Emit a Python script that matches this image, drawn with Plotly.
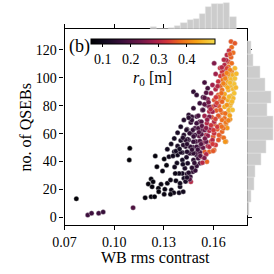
import plotly.graph_objects as go

# ---------------- data ----------------
wb_contrast = [
    0.0771, 0.0840, 0.0863, 0.0906, 0.0933, 0.1094, 0.1091, 0.1114, 0.1187, 0.1223,
    0.1244, 0.1248, 0.1302, 0.1258, 0.1316, 0.1292, 0.1223, 0.1235, 0.1206, 0.1229,
    0.1283, 0.1321, 0.1340, 0.1373, 0.1267, 0.1306, 0.1269, 0.1302, 0.1345, 0.1360,
    0.1340, 0.1392, 0.1417, 0.1379, 0.1398, 0.1421, 0.1412, 0.1427, 0.1392, 0.1440,
    0.1460, 0.1463, 0.1456, 0.1475, 0.1444, 0.1412, 0.1437, 0.1479, 0.1469, 0.1498,
    0.1518, 0.1508, 0.1527, 0.1383, 0.1369, 0.1560, 0.1533, 0.1498, 0.1431, 0.1398,
    0.1490, 0.1331, 0.1450,
    # upper band
    0.1706, 0.1729, 0.1710, 0.1694, 0.1719, 0.1681, 0.1706, 0.1690, 0.1710, 0.1604,
    0.1667, 0.1729, 0.1690, 0.1675, 0.1710, 0.1652, 0.1613, 0.1642, 0.1671, 0.1700,
    0.1719, 0.1687, 0.1656, 0.1629, 0.1546, 0.1594, 0.1642, 0.1671, 0.1706, 0.1565,
    0.1613, 0.1652, 0.1690, 0.1719, 0.1479, 0.1498, 0.1585, 0.1629, 0.1667, 0.1706,
    0.1537, 0.1565, 0.1604, 0.1642, 0.1687, 0.1719, 0.1517, 0.1556, 0.1594, 0.1633,
    0.1667, 0.1700, 0.1479, 0.1533, 0.1575, 0.1617, 0.1652, 0.1690, 0.1450, 0.1498,
    0.1546, 0.1590, 0.1633, 0.1667, 0.1700, 0.1421, 0.1463, 0.1517, 0.1560, 0.1604,
    0.1642, 0.1675, 0.1402, 0.1440, 0.1488, 0.1533, 0.1575, 0.1623, 0.1652, 0.1383,
    0.1421, 0.1469, 0.1513, 0.1556, 0.1598, 0.1642, 0.1363, 0.1402, 0.1450, 0.1494,
    0.1537, 0.1585, 0.1675, 0.1344, 0.1383, 0.1431, 0.1475, 0.1517, 0.1565, 0.1613,
    0.1321, 0.1363, 0.1412, 0.1456, 0.1498, 0.1546, 0.1575,
    0.1444, 0.1437, 0.1469, 0.1556, 0.1604,
    # core
    0.1546, 0.1633, 0.1662, 0.1694, 0.1706, 0.1681, 0.1652, 0.1613, 0.1575, 0.1546,
    0.1537, 0.1594, 0.1642, 0.1671, 0.1694, 0.1629, 0.1575, 0.1508, 0.1469, 0.1450,
    0.1498, 0.1527, 0.1604, 0.1652, 0.1675, 0.1623, 0.1585, 0.1546, 0.1508, 0.1475,
    0.1456, 0.1489, 0.1527, 0.1566, 0.1604, 0.1633, 0.1662, 0.1594, 0.1556, 0.1518,
    0.1479, 0.1431, 0.1417, 0.1460, 0.1498, 0.1537, 0.1575, 0.1671, 0.1373, 0.1402,
    0.1440, 0.1479, 0.1518, 0.1556, 0.1598,
    # top
    0.1677, 0.1681, 0.1700, 0.1662, 0.1691, 0.1716, 0.1671, 0.1706, 0.1729,
    0.1725, 0.1735, 0.1725, 0.1712, 0.1698, 0.1715, 0.1683, 0.1690, 0.1660, 0.1738,
    # more core
    0.1505, 0.1525, 0.1548, 0.1512, 0.1530, 0.1585, 0.1562, 0.1612, 0.1583, 0.1620,
    0.1570, 0.1615, 0.1648, 0.1660, 0.1625, 0.1640, 0.1663, 0.1470, 0.1440, 0.1415,
    0.1395, 0.1355, 0.1480, 0.1520, 0.1545, 0.1470, 0.1440, 0.1485, 0.1415, 0.1365,
    0.1595, 0.1630, 0.1650, 0.1600, 0.1555, 0.1685, 0.1700, 0.1680, 0.1700, 0.1650,
]
n_qsebs = [
    13.3, 1.6, 2.9, 2.9, 3.8, 49.5, 41.1, 6.9, 14.0, 14.8,
    14.8, 43.9, 41.8, 36.3, 37.3, 33.2, 27.5, 25.5, 23.9, 21.9,
    23.7, 24.4, 26.7, 26.2, 20.8, 20.1, 18.4, 16.5, 19.6, 17.6,
    16.5, 17.6, 18.4, 38.9, 21.9, 28.0, 31.5, 35.1, 31.5, 31.0,
    29.1, 25.5, 27.2, 32.7, 38.7, 41.1, 43.0, 41.1, 45.9, 44.7,
    38.7, 42.3, 43.4, 44.7, 31.5, 39.9, 39.2, 36.8, 25.6, 24.4,
    33.5, 43.5, 32.0,
    126.0, 124.8, 121.9, 119.5, 118.0, 116.4, 114.7, 111.6, 110.4, 110.4,
    109.2, 106.8, 108.0, 105.2, 104.4, 104.4, 102.8, 101.3, 100.9, 100.4,
    98.5, 97.3, 98.5, 97.3, 96.6, 94.9, 94.2, 94.9, 94.2, 92.5,
    91.8, 91.3, 91.3, 91.8, 90.1, 87.7, 88.9, 87.7, 88.4, 87.0,
    86.0, 84.6, 84.1, 83.7, 84.1, 85.3, 81.7, 80.5, 79.3, 79.8,
    79.3, 79.8, 78.2, 77.0, 75.8, 76.5, 75.0, 75.8, 73.4, 72.2,
    72.7, 71.7, 72.2, 71.0, 70.3, 69.8, 67.9, 68.6, 67.4, 66.9,
    66.2, 66.9, 65.0, 63.1, 63.8, 62.6, 62.1, 63.1, 61.4, 60.7,
    59.0, 59.8, 58.3, 59.0, 57.8, 57.8, 56.6, 55.0, 55.4, 54.3,
    53.5, 54.3, 54.3, 52.6, 51.1, 50.7, 50.2, 50.7, 51.1, 51.9,
    48.8, 47.1, 46.4, 45.9, 46.4, 47.1, 47.1,
    55.9, 62.6, 72.1, 89.3, 48.2,
    85.7, 86.4, 85.3, 86.4, 81.7, 80.5, 82.9, 80.5, 79.3, 81.0,
    76.9, 75.7, 76.9, 74.5, 76.9, 72.8, 72.1, 72.8, 69.7, 71.4,
    67.4, 68.5, 68.5, 69.7, 68.1, 64.9, 63.8, 62.6, 63.8, 62.6,
    60.2, 59.0, 59.5, 58.5, 60.2, 59.0, 57.0, 55.4, 54.2, 54.7,
    54.2, 55.4, 51.8, 50.6, 50.6, 49.9, 50.6, 54.2, 47.5, 46.6,
    47.0, 45.9, 46.6, 45.2, 47.5,
    112.7, 106.8, 105.6, 102.0, 102.7, 102.0, 99.6, 98.9, 99.6,
    95.5, 93.0, 89.0, 83.0, 73.0, 77.0, 64.0, 69.5, 63.8, 103.0,
    48.5, 52.5, 56.5, 61.0, 65.5, 66.0, 70.0, 70.5, 77.5, 82.0,
    82.5, 86.0, 89.0, 96.0, 94.0, 107.0, 113.0, 48.5, 52.5, 57.0,
    49.0, 44.0, 58.0, 44.0, 42.5, 35.5, 28.5, 39.0, 38.0, 36.0,
    52.5, 55.5, 65.0, 62.5, 64.0, 93.0, 96.5, 103.5, 117.0, 107.5,
]
r0 = [
    0.06, 0.17, 0.17, 0.17, 0.16, 0.06, 0.06, 0.19, 0.07, 0.07,
    0.07, 0.07, 0.07, 0.07, 0.07, 0.08, 0.07, 0.07, 0.07, 0.07,
    0.08, 0.08, 0.09, 0.09, 0.07, 0.08, 0.07, 0.08, 0.09, 0.09,
    0.08, 0.10, 0.10, 0.10, 0.10, 0.11, 0.11, 0.12, 0.10, 0.13,
    0.15, 0.30, 0.20, 0.15, 0.12, 0.11, 0.12, 0.14, 0.14, 0.15,
    0.18, 0.17, 0.30, 0.10, 0.09, 0.37, 0.30, 0.16, 0.12, 0.10,
    0.16, 0.10, 0.13,
    0.36, 0.36, 0.38, 0.32, 0.38, 0.30, 0.37, 0.35, 0.38, 0.25,
    0.30, 0.46, 0.38, 0.30, 0.40, 0.32, 0.28, 0.33, 0.37, 0.45,
    0.47, 0.44, 0.38, 0.32, 0.18, 0.28, 0.37, 0.43, 0.46, 0.18,
    0.30, 0.38, 0.45, 0.46, 0.15, 0.15, 0.27, 0.36, 0.44, 0.45,
    0.18, 0.25, 0.35, 0.38, 0.45, 0.46, 0.17, 0.22, 0.35, 0.36,
    0.44, 0.46, 0.15, 0.20, 0.30, 0.36, 0.38, 0.44, 0.14, 0.17,
    0.28, 0.35, 0.38, 0.38, 0.42, 0.13, 0.15, 0.20, 0.30, 0.36,
    0.37, 0.40, 0.12, 0.14, 0.17, 0.22, 0.30, 0.36, 0.37, 0.12,
    0.13, 0.16, 0.20, 0.30, 0.36, 0.37, 0.11, 0.12, 0.15, 0.18,
    0.28, 0.35, 0.38, 0.10, 0.12, 0.14, 0.16, 0.20, 0.30, 0.33,
    0.10, 0.11, 0.12, 0.15, 0.18, 0.36, 0.37,
    0.14, 0.13, 0.15, 0.20, 0.37,
    0.20, 0.37, 0.40, 0.46, 0.45, 0.42, 0.37, 0.30, 0.25, 0.20,
    0.18, 0.28, 0.37, 0.38, 0.45, 0.36, 0.25, 0.18, 0.15, 0.14,
    0.17, 0.20, 0.30, 0.38, 0.39, 0.33, 0.28, 0.22, 0.18, 0.16,
    0.15, 0.17, 0.20, 0.27, 0.32, 0.36, 0.38, 0.30, 0.22, 0.19,
    0.16, 0.14, 0.13, 0.15, 0.17, 0.22, 0.30, 0.42, 0.11, 0.12,
    0.13, 0.15, 0.19, 0.30, 0.36,
    0.30, 0.34, 0.40, 0.35, 0.42, 0.45, 0.40, 0.46, 0.47,
    0.47, 0.46, 0.47, 0.46, 0.43, 0.47, 0.42, 0.40, 0.38, 0.46,
    0.17, 0.20, 0.24, 0.19, 0.21, 0.32, 0.27, 0.34, 0.30, 0.34,
    0.24, 0.33, 0.38, 0.40, 0.30, 0.32, 0.30, 0.15, 0.14, 0.13,
    0.11, 0.10, 0.16, 0.20, 0.25, 0.14, 0.12, 0.15, 0.11, 0.10,
    0.33, 0.36, 0.38, 0.33, 0.26, 0.44, 0.46, 0.40, 0.36, 0.30,
]

# marginal histograms (bin edges and counts)
top_bin_edges = [0.1219, 0.1256, 0.1293, 0.1330, 0.1367, 0.1404, 0.1441, 0.1478,
                 0.1515, 0.1552, 0.1589, 0.1626, 0.1663, 0.1700, 0.1737]
top_counts = [7, 2, 2, 3, 8, 15, 23, 27, 38, 55, 63, 63, 67, 30]

right_bin_edges = [1.8, 10.67, 19.54, 28.41, 37.29, 46.16, 55.03, 63.9, 72.77,
                   81.64, 90.51, 99.39, 108.26, 117.13, 126.0]
right_counts = [6, 11, 19, 21, 36, 50, 67, 67, 52, 62, 47, 33, 17, 11]

x_ticks = [0.07, 0.10, 0.13, 0.16]
y_ticks = [0, 20, 40, 60, 80, 100, 120]
cbar_ticks = [0.1, 0.2, 0.3, 0.4]

# ---------------- figure ----------------
W = H = 274
FONT = "Liberation Serif"

def px_x(p):
    return p / W

def px_y(p):
    return 1 - p / H

ax_l, ax_r, ax_t, ax_b = 55, 246, 29.3, 225

cscale = [
    [0.00, "#000004"], [0.12, "#140b22"], [0.25, "#3b0f3c"], [0.40, "#6e1848"],
    [0.52, "#a8204a"], [0.62, "#d4373a"], [0.72, "#ec6a1e"], [0.85, "#f7a215"],
    [1.00, "#f4dc4c"],
]

top_centers = [(a + b) / 2 for a, b in zip(top_bin_edges[:-1], top_bin_edges[1:])]
top_widths = [b - a for a, b in zip(top_bin_edges[:-1], top_bin_edges[1:])]
right_centers = [(a + b) / 2 for a, b in zip(right_bin_edges[:-1], right_bin_edges[1:])]
right_widths = [b - a for a, b in zip(right_bin_edges[:-1], right_bin_edges[1:])]

fig = go.Figure()

hist_marker = dict(color="#cccccc", line=dict(color="#e4e4e4", width=0.5))
fig.add_trace(go.Bar(
    x=top_centers, y=top_counts, width=top_widths,
    xaxis="x2", yaxis="y2", marker=hist_marker,
    showlegend=False, hoverinfo="skip",
))
fig.add_trace(go.Bar(
    y=right_centers, x=right_counts, width=right_widths, orientation="h",
    xaxis="x3", yaxis="y3", marker=hist_marker,
    showlegend=False, hoverinfo="skip",
))

fig.add_trace(go.Scatter(
    x=wb_contrast, y=n_qsebs, mode="markers",
    xaxis="x", yaxis="y",
    marker=dict(
        size=5, color=r0, colorscale=cscale, cmin=0.056, cmax=0.50,
        line=dict(color="rgba(225,225,225,0.9)", width=0.4),
        colorbar=dict(
            orientation="h",
            x=px_x(147), xanchor="center",
            y=px_y(39.3), yanchor="top",
            len=124, lenmode="pixels",
            thickness=5, thicknessmode="pixels",
            outlinewidth=1, outlinecolor="black",
            xpad=0, ypad=0,
            tickvals=cbar_ticks, ticktext=["0.1", "0.2", "0.3", "0.4"],
            ticks="outside", ticklen=3, tickwidth=1, tickcolor="black",
            tickfont=dict(family=FONT, size=14, color="black"),
            title=dict(text="<i>r</i><sub>0</sub> [m]", side="bottom",
                       font=dict(family=FONT, size=16, color="black")),
        ),
    ),
    showlegend=False, hoverinfo="skip",
))

axis_common = dict(
    showgrid=False, zeroline=False, showline=True, linecolor="black", linewidth=1.2,
    mirror="ticks", ticks="outside", ticklen=4, tickwidth=1, tickcolor="black",
    tickfont=dict(family=FONT, size=14, color="black"),
)
hidden = dict(visible=False, showgrid=False, zeroline=False)

fig.update_layout(
    width=W, height=H,
    margin=dict(l=0, r=0, t=0, b=0),
    paper_bgcolor="white", plot_bgcolor="rgba(0,0,0,0)",
    bargap=0,
    xaxis=dict(domain=[px_x(ax_l), px_x(ax_r)], range=[0.07, 0.1804],
               tickvals=x_ticks, ticktext=["0.07", "0.10", "0.13", "0.16"],
               anchor="y", **axis_common),
    yaxis=dict(domain=[px_y(ax_b), px_y(ax_t)], range=[-5.5, 134.8],
               tickvals=y_ticks, anchor="x", **axis_common),
    xaxis2=dict(domain=[px_x(ax_l), px_x(ax_r)], matches="x", anchor="y2", **hidden),
    yaxis2=dict(domain=[px_y(ax_t), 1.0], range=[0, 73.5], anchor="x2", **hidden),
    xaxis3=dict(domain=[px_x(ax_r), 1.0], range=[0, 70.3], anchor="y3", **hidden),
    yaxis3=dict(domain=[px_y(ax_b), px_y(ax_t)], matches="y", anchor="x3", **hidden),
    annotations=[
        dict(text="(b)", x=px_x(58), y=px_y(46), xref="paper", yref="paper",
             xanchor="left", yanchor="middle", showarrow=False,
             font=dict(family=FONT, size=18, color="black")),
        dict(text="WB rms contrast", x=px_x((ax_l + ax_r) / 2), y=px_y(257),
             xref="paper", yref="paper", xanchor="center", yanchor="middle",
             showarrow=False, font=dict(family=FONT, size=16, color="black")),
        dict(text="no. of QSEBs", x=px_x(14), y=px_y((ax_t + ax_b) / 2),
             xref="paper", yref="paper", xanchor="center", yanchor="middle",
             textangle=-90, showarrow=False,
             font=dict(family=FONT, size=16, color="black")),
    ],
)

fig.write_html("out.html", config={"displayModeBar": False},
               post_script="document.body.style.margin='0px';")
